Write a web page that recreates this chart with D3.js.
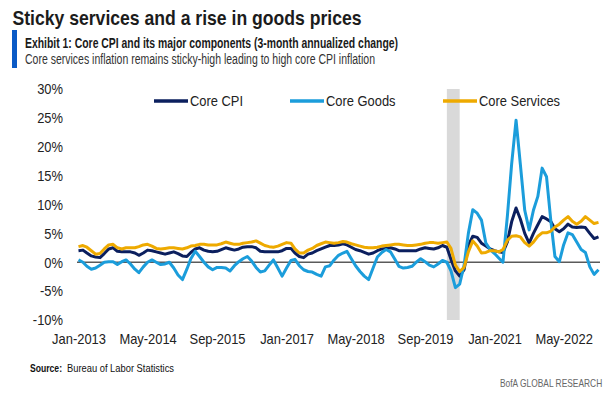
<!DOCTYPE html>
<html>
<head>
<meta charset="utf-8">
<script src="https://cdn.jsdelivr.net/npm/d3@7"></script>
<style>
  body { margin: 0; background: #fff; }
  svg { display: block; }
  text { font-family: "Liberation Sans", Arial, sans-serif; }
  .axis text { font-size: 15px; fill: #222; }
</style>
</head>
<body>
<div id="chart"></div>
<script>
// Series: 3-month annualized % change, monthly Jan-2013 .. Jan-2023
const startMonth = "2013-01";
const coreCPI = [
  2.0, 2.1, 1.6, 1.1, 0.9, 0.8, 1.5, 2.3, 2.5, 1.9, 1.8, 1.8,
  1.8, 1.6, 1.2, 1.6, 2.1, 2.0, 1.8, 1.6, 1.4, 1.6, 1.8, 1.5,
  1.1, 1.0, 1.7, 2.3, 2.5, 2.1, 1.9, 1.8, 1.9, 2.2, 2.5, 2.3,
  2.1, 2.3, 2.6, 2.7, 2.7, 2.5, 1.9, 1.8, 1.8, 1.8, 1.8, 2.0,
  2.4, 2.4, 1.6, 1.0, 0.8, 1.4, 1.6, 2.0, 2.3, 2.6, 2.9, 2.9,
  3.0, 3.2, 3.0, 2.6, 2.2, 2.0, 1.7, 1.4, 1.6, 2.0, 2.3, 2.4,
  2.5, 2.3, 2.0, 2.0, 2.0, 2.0, 2.0, 2.3, 2.5, 2.4, 2.3, 2.5,
  2.9, 2.6, 0.5, -1.5, -2.4, -1.3, 2.9, 4.5, 4.3, 3.3, 2.8, 2.3,
  2.0, 1.8, 1.7, 3.5, 7.0, 9.4, 7.5, 5.0, 3.3, 5.0, 6.5, 7.9,
  7.5, 7.0, 5.8, 5.3, 5.8, 6.6, 6.1, 6.0, 6.1, 6.0, 5.0, 4.1,
  4.4
];
const coreGoods = [
  0.4, 0.0, -0.7, -1.2, -1.0, -0.5, 0.0, 0.1, 0.1, -0.4, 0.1, 0.4,
  -0.3, -1.2, -1.8, -0.8, 0.0, 0.4, 0.0, -0.4, -0.3, 0.0, -1.0, -2.2,
  -3.0, -1.2, 0.6, 1.9, 1.0, 0.0, -0.8, -1.3, -0.9, -0.9, -1.0, -1.5,
  -0.6, 0.1, 0.6, 1.0, 0.2, -0.9, -1.7, -1.5, -0.5, 0.4, -1.0, -2.4,
  -1.0, 0.3, 0.5, -0.6, -1.3, -1.6, -1.7, -2.1, -2.4, -0.8, -0.6, 0.4,
  1.2, 1.6, 1.9, 0.6, -0.6, -1.6, -2.4, -3.0, -1.0, 0.9, 1.7, 2.2,
  1.8, 0.5, -0.7, -1.0, -0.9, -0.7, 0.0, 0.6, 0.1, -0.5, -0.8, -0.3,
  0.3, 0.0, -1.5, -4.4, -3.8, -0.5, 5.0, 9.1, 8.5, 7.3, 3.3, 2.2,
  1.5, 0.7, 0.0, 8.0, 17.0, 24.6, 17.0, 9.0, 5.6, 9.0, 11.4, 16.3,
  14.8, 7.0, 1.0, 0.1, 3.0, 5.1, 4.8, 3.5, 2.2, 1.7, -0.8, -2.1,
  -1.3
];
const coreServices = [
  2.7, 2.9, 2.6, 2.0, 1.4, 1.5, 2.3, 3.0, 3.1, 2.5, 2.3, 2.5,
  2.5, 2.5, 2.7, 3.0, 3.1, 2.8, 2.4, 2.3, 2.4, 2.5, 2.5, 2.4,
  2.3, 2.5, 2.8, 2.9, 3.1, 3.1, 3.0, 3.0, 3.0, 3.2, 3.5, 3.3,
  3.1, 3.1, 3.3, 3.4, 3.5, 3.7, 3.3, 2.9, 2.7, 2.6, 2.8, 3.1,
  3.4, 3.3, 2.3, 1.6, 1.6, 2.1, 2.4, 2.9, 3.2, 3.5, 3.4, 3.3,
  3.4, 3.6, 3.5, 3.2, 3.0, 2.8, 2.6, 2.5, 2.5, 2.6, 2.8, 2.9,
  3.0, 3.1, 3.1, 3.0, 2.9, 2.9, 3.0, 3.1, 3.3, 3.4, 3.4, 3.3,
  3.4, 3.5, 2.4, -0.5, -1.6, -0.9, 1.8, 3.7, 2.8, 1.6, 1.7, 2.0,
  2.0, 1.8, 2.2, 3.8, 4.5, 4.6, 4.4, 3.4, 2.8, 3.5, 4.5, 5.1,
  5.1, 5.4, 6.1, 6.6, 7.3, 7.9, 7.1, 6.6, 7.1, 7.9, 7.3, 6.7,
  6.9
];
const seriesNames = ["Core CPI", "Core Goods", "Core Services"];
const seriesColors = ["#0b1f5e", "#1b9ddb", "#eeaa00"];
const recession = ["2020-02", "2020-05"];
const yTicks = [-10, -5, 0, 5, 10, 15, 20, 25, 30];
const xTickLabels = ["Jan-2013", "May-2014", "Sep-2015", "Jan-2017", "May-2018", "Sep-2019", "Jan-2021", "May-2022"];

const W = 615, H = 396;
const margin = { top: 89, right: 16.5, bottom: 76, left: 78.5 };
const parseYM = d3.utcParse("%Y-%m");
const parseTick = d3.utcParse("%b-%Y");
const fmtTick = d3.utcFormat("%b-%Y");

const months = d3.range(coreCPI.length).map((i) => d3.utcMonth.offset(parseYM(startMonth), i));
const series = [coreCPI, coreGoods, coreServices].map((vals, k) => ({
  name: seriesNames[k],
  color: seriesColors[k],
  values: vals.map((v, i) => ({ date: months[i], value: v })),
}));

// no condensed face is installed, so squeeze text horizontally
function condense(sel, factor) {
  sel.each(function () {
    const len = this.getComputedTextLength();
    d3.select(this).attr("textLength", len * factor).attr("lengthAdjust", "spacingAndGlyphs");
  });
}
function fitTo(sel, width) {
  sel.attr("textLength", width).attr("lengthAdjust", "spacingAndGlyphs");
}

const svg = d3.select("#chart").append("svg").attr("width", W).attr("height", H);

const x = d3.scaleUtc()
  .domain([months[0], months[months.length - 1]])
  .range([margin.left, W - margin.right]);
const y = d3.scaleLinear()
  .domain([d3.min(yTicks), d3.max(yTicks)])
  .range([H - margin.bottom, margin.top]);

// Header
svg.append("text")
  .attr("x", 12.5).attr("y", 25)
  .style("font-weight", "bold").style("font-size", "20.5px")
  .attr("fill", "#1c1c1c")
  .text("Sticky services and a rise in goods prices")
  .call(fitTo, 349);
svg.append("rect")
  .attr("x", 12).attr("y", 30).attr("width", 5).attr("height", 38)
  .attr("fill", "#0a5ac6");
svg.append("text")
  .attr("x", 25).attr("y", 48)
  .style("font-weight", "bold").style("font-size", "14px")
  .attr("fill", "#1a1a1a")
  .text("Exhibit 1: Core CPI and its major components (3-month annualized change)")
  .call(fitTo, 373);
svg.append("text")
  .attr("x", 25).attr("y", 64)
  .style("font-size", "14px")
  .attr("fill", "#333")
  .text("Core services inflation remains sticky-high leading to high core CPI inflation")
  .call(fitTo, 350);

// Recession shading
svg.append("rect")
  .attr("x", x(parseYM(recession[0])))
  .attr("y", y(d3.max(yTicks)))
  .attr("width", x(parseYM(recession[1])) - x(parseYM(recession[0])))
  .attr("height", y(d3.min(yTicks)) - y(d3.max(yTicks)))
  .attr("fill", "#d9d9d9");

// Axes
svg.append("g")
  .attr("class", "axis")
  .attr("transform", `translate(${margin.left},0)`)
  .call(d3.axisLeft(y).tickValues(yTicks).tickFormat((d) => d + "%").tickSize(0).tickPadding(15.5))
  .call((g) => g.select(".domain").remove())
  .call((g) => condense(g.selectAll("text"), 0.86));

svg.append("g")
  .attr("class", "axis")
  .attr("transform", `translate(0,${y(d3.min(yTicks))})`)
  .call(d3.axisBottom(x).tickValues(xTickLabels.map(parseTick)).tickFormat(fmtTick).tickSize(0).tickPadding(13))
  .call((g) => g.select(".domain").remove())
  .call((g) => condense(g.selectAll("text"), 0.86));

// Zero line
svg.append("line")
  .attr("x1", x.range()[0] - 1.5).attr("x2", x.range()[1] + 1.5)
  .attr("y1", y(0)).attr("y2", y(0))
  .attr("stroke", "#5a5a5a").attr("stroke-width", 1.5);

// Lines
const line = d3.line().x((d) => x(d.date)).y((d) => y(d.value));
svg.append("g")
  .selectAll("path")
  .data(series)
  .join("path")
  .attr("d", (d) => line(d.values))
  .attr("fill", "none")
  .attr("stroke", (d) => d.color)
  .attr("stroke-width", 3)
  .attr("stroke-linejoin", "round");

// Legend
const legendX = [154, 290, 443];
const legend = svg.append("g")
  .selectAll("g")
  .data(series)
  .join("g")
  .attr("transform", (d, i) => `translate(${legendX[i]},101)`);
legend.append("line")
  .attr("x1", 0).attr("x2", 34)
  .attr("stroke", (d) => d.color).attr("stroke-width", 3.5);
legend.append("text")
  .attr("x", 36).attr("dy", "0.35em")
  .style("font-size", "15px").attr("fill", "#222")
  .text((d) => d.name)
  .call(condense, 0.86);

// Footer
svg.append("text")
  .attr("x", 30).attr("y", 372)
  .style("font-size", "11px").style("font-weight", "bold").attr("fill", "#111")
  .text("Source:")
  .call(fitTo, 32);
svg.append("text")
  .attr("x", 67).attr("y", 372)
  .style("font-size", "11px").attr("fill", "#111")
  .text("Bureau of Labor Statistics")
  .call(fitTo, 107);

svg.append("text")
  .attr("transform", "translate(500,387) scale(0.84,1)")
  .style("font-size", "10px").attr("fill", "#666")
  .text("BofA GLOBAL RESEARCH");
</script>
</body>
</html>
